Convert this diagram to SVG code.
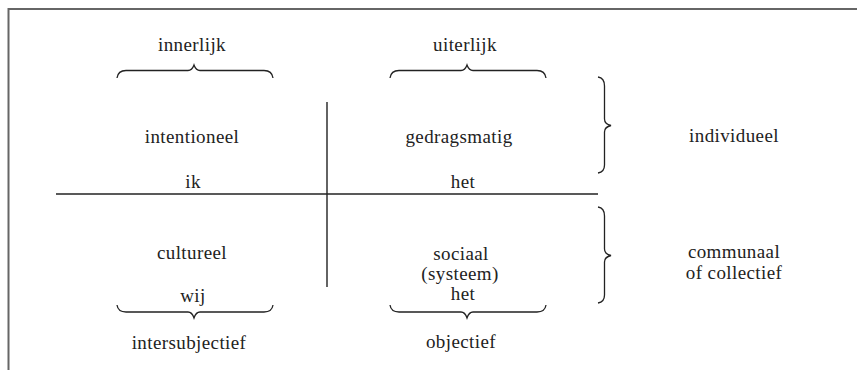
<svg xmlns="http://www.w3.org/2000/svg" width="857" height="370" viewBox="0 0 857 370">
<style>
text{font-family:"Liberation Serif","Times New Roman",serif;font-size:19px;letter-spacing:0.4px;fill:#222;text-anchor:middle}
.ln{stroke:#222;stroke-width:1.4;fill:none}
.br{stroke:#222;stroke-width:1.3;fill:none}
</style>
<rect x="0" y="0" width="857" height="370" fill="#fff"/>
<rect x="8.5" y="9" width="900" height="400" fill="none" stroke="#666" stroke-width="2"/>
<g id="connectors">
<line class="ln" x1="327" y1="102" x2="327" y2="287"/>
<line class="ln" x1="56" y1="194" x2="598" y2="194"/>
<path id="brace-innerlijk" class="br" d="M117,78 Q118,70.5 126,70.5 L188,70.5 Q192,70.5 194,65 Q196,70.5 200,70.5 L264,70.5 Q272,70.5 273,78"/>
<path id="brace-uiterlijk" class="br" d="M390,78 Q391,70.5 399,70.5 L461,70.5 Q465,70.5 467,65 Q469,70.5 473,70.5 L537,70.5 Q545,70.5 546,78"/>
<path id="brace-wij" class="br" d="M117,305 Q118,312 126,312 L188,312 Q192,312 194,318 Q196,312 200,312 L264,312 Q272,312 273,305"/>
<path id="brace-het" class="br" d="M390,305 Q391,312 399,312 L461,312 Q465,312 467,318 Q469,312 473,312 L537,312 Q545,312 546,305"/>
<path id="brace-individueel" class="br" d="M598,77 Q604.5,78 604.5,86 L604.5,119 Q604.5,124 611,125.5 Q604.5,127 604.5,132 L604.5,165 Q604.5,172 598,173"/>
<path id="brace-communaal" class="br" d="M598,207 Q604.5,208 604.5,216 L604.5,249 Q604.5,254 611,255.5 Q604.5,257 604.5,262 L604.5,295 Q604.5,302 598,303"/>
</g>
<g id="innerlijk"><text x="192" y="51">innerlijk</text></g>
<g id="uiterlijk"><text x="465" y="51">uiterlijk</text></g>
<g id="intentioneel"><text x="192" y="143">intentioneel</text><text x="193" y="188">ik</text></g>
<g id="gedragsmatig"><text x="459" y="143">gedragsmatig</text><text x="463" y="188">het</text></g>
<g id="individueel"><text x="734" y="142">individueel</text></g>
<g id="cultureel"><text x="192" y="259">cultureel</text><text x="193" y="302">wij</text></g>
<g id="sociaal"><text x="461" y="260">sociaal</text><text x="460" y="280">(systeem)</text><text x="463" y="300">het</text></g>
<g id="communaal"><text x="734" y="258">communaal</text><text x="734" y="279">of collectief</text></g>
<g id="intersubjectief"><text x="189" y="349">intersubjectief</text></g>
<g id="objectief"><text x="461" y="348">objectief</text></g>
</svg>
